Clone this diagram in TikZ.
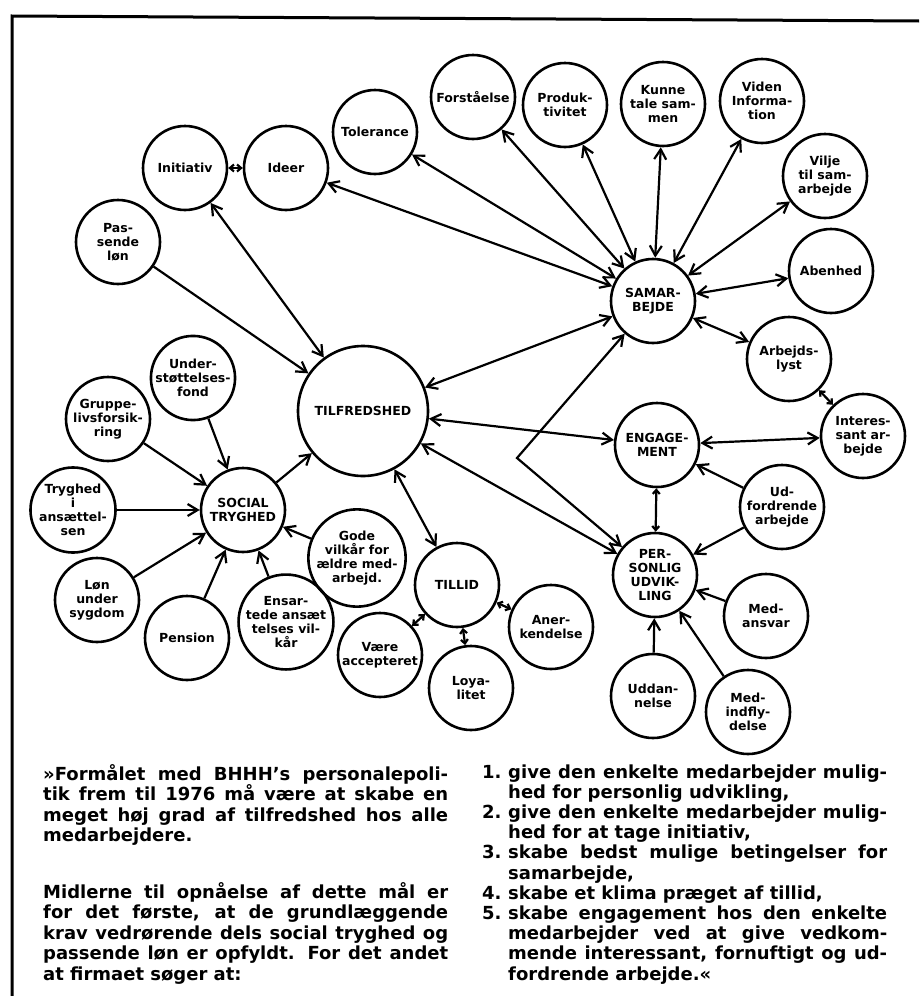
\documentclass[tikz,border=0pt]{standalone}
\usepackage{fontspec}
\setmainfont{DejaVu Sans}
\usetikzlibrary{arrows.meta}
\newcommand\mylab{\fontsize{12.5}{14}\selectfont\bfseries}
\newcommand\mybody{\fontsize{18}{20}\selectfont\bfseries}
\tikzset{
  bub/.style={circle, draw, line width=2.6pt, minimum size=84pt, inner sep=0pt, align=center, font=\mylab},
  bigbub/.style={bub, minimum size=130pt},
  barb/.tip={Straight Barb[length=10pt,width=12pt]},
  tinybarb/.tip={Straight Barb[length=4pt,width=7pt]},
  con/.style={line width=2.2pt, -barb},
  dcon/.style={line width=2.2pt, barb-barb},
  sdcon/.style={line width=2.2pt, tinybarb-tinybarb},
  txt/.style={anchor=base west, inner sep=0pt, font=\mybody},
}
\newcommand\jl[4]{\node[txt] (#1) at (#2) {\makebox[#3][s]{#4}};}
\begin{document}
\begin{tikzpicture}[x=1pt,y=-1pt]
\useasboundingbox (0,0) rectangle (919,996);
% frame
\coordinate (fa) at (12,996);
\coordinate (fb) at (12,16);
\coordinate (fc) at (919,21);
\draw[line width=3pt] (fa) -- (fb) -- (fc);

% nodes
\node[bub] (ini) at (185,168) {Initiativ};
\node[bub] (ide) at (286,168) {Ideer};
\node[bub] (tol) at (375,132) {Tolerance};
\node[bub] (for) at (473,97) {Forståelse};
\node[bub] (pro) at (565,105) {Produk-\\tivitet};
\node[bub] (kun) at (663,104) {Kunne\\tale sam-\\men};
\node[bub] (vid) at (762,101) {Viden\\Informa-\\tion};
\node[bub] (vil) at (825,176) {Vilje\\til sam-\\arbejde};
\node[bub] (abe) at (831,271) {Abenhed};
\node[bub] (sam) at (653,301) {SAMAR-\\BEJDE};
\node[bub] (arb) at (789,359) {Arbejds-\\lyst};
\node[bub] (int) at (863,436) {Interes-\\sant ar-\\bejde};
\node[bub] (eng) at (657,445) {ENGAGE-\\MENT};
\node[bub] (udf) at (782,507) {Ud-\\fordrende\\arbejde};
\node[bub] (per) at (655,575) {PER-\\SONLIG\\UDVIK-\\LING};
\node[bub] (mea) at (766,616) {Med-\\ansvar};
\node[bub] (udd) at (653,696) {Uddan-\\nelse};
\node[bub] (mei) at (748,712) {Med-\\indfly-\\delse};
\node[bub] (til) at (457,585) {TILLID};
\node[bub] (ane) at (551,627) {Aner-\\kendelse};
\node[bub] (loy) at (471,688) {Loya-\\litet};
\node[bub] (vae) at (380,655) {Være\\accepteret};
\node[bub] (god) at (357,558) {Gode\\vilkår for\\ældre med-\\arbejd.};
\node[bigbub] (tif) at (363,411) {TILFREDSHED};
\node[bub] (soc) at (243,510) {SOCIAL\\TRYGHED};
\node[bub] (und) at (193,378) {Under-\\støttelses-\\fond};
\node[bub] (gru) at (108,419) {Gruppe-\\livsforsik-\\ring};
\node[bub] (try) at (73,510) {Tryghed\\i\\ansættel-\\sen};
\node[bub] (lon) at (97,600) {Løn\\under\\sygdom};
\node[bub] (pen) at (187,638) {Pension};
\node[bub] (ens) at (286,622) {Ensar-\\tede ansæt\\telses vil-\\kår};
\node[bub] (pas) at (118,242) {Pas-\\sende\\løn};
\coordinate (kink) at (517,458);

% connectors
\draw[sdcon] (ini) -- (ide);
\draw[dcon] (ide) -- (sam);
\draw[dcon] (tol) -- (sam);
\draw[dcon] (for) -- (sam);
\draw[dcon] (pro) -- (sam);
\draw[dcon] (kun) -- (sam);
\draw[dcon] (vid) -- (sam);
\draw[dcon] (vil) -- (sam);
\draw[dcon] (abe) -- (sam);
\draw[dcon] (arb) -- (sam);
\draw[sdcon] (arb) -- (int);
\draw[dcon] (int) -- (eng);
\draw[con] (udf) -- (eng);
\draw[con] (udf) -- (per);
\draw[sdcon] (eng) -- (per);
\draw[con] (mea) -- (per);
\draw[con] (udd) -- (per);
\draw[con] (mei) -- (per);
\draw[dcon] (tif) -- (sam);
\draw[dcon] (tif) -- (eng);
\draw[dcon] (tif) -- (per);
\draw[dcon] (per) -- (kink) -- (sam);
\draw[dcon] (tif) -- (til);
\draw[sdcon] (til) -- (vae);
\draw[sdcon] (til) -- (loy);
\draw[sdcon] (til) -- (ane);
\draw[dcon] (ini) -- (tif);
\draw[con] (pas) -- (tif);
\draw[con] (soc) -- (tif);
\draw[con] (und) -- (soc);
\draw[con] (gru) -- (soc);
\draw[con] (try) -- (soc);
\draw[con] (lon) -- (soc);
\draw[con] (pen) -- (soc);
\draw[con] (ens) -- (soc);
\draw[con] (god) -- (soc);

% text, left column
\jl{la}{43,780}{405pt}{»Formålet med BHHH’s personalepoli-}
\jl{lb}{43,800.5}{405pt}{tik frem til 1976 må være at skabe en}
\jl{lc}{43,821}{405pt}{meget høj grad af tilfredshed hos alle}
\node[txt] (ld) at (43,841.5) {medarbejdere.};
\jl{le}{43,898}{405pt}{Midlerne til opnåelse af dette mål er}
\jl{lf}{43,918.5}{405pt}{for det første, at de grundlæggende}
\jl{lg}{43,939}{405pt}{krav vedrørende dels social tryghed og}
\jl{lh}{43,959.5}{405pt}{passende løn er opfyldt. For det andet}
\node[txt] (li) at (43,980) {at firmaet søger at:};

% text, right column
\node[txt] (n1) at (482,778) {1.};
\jl{ra}{508,778}{379pt}{give den enkelte medarbejder mulig-}
\node[txt] (rb) at (508,798.2) {hed for personlig udvikling,};
\node[txt] (n2) at (482,818.4) {2.};
\jl{rc}{508,818.4}{379pt}{give den enkelte medarbejder mulig-}
\node[txt] (rd) at (508,838.6) {hed for at tage initiativ,};
\node[txt] (n3) at (482,858.8) {3.};
\jl{re}{508,858.8}{379pt}{skabe bedst mulige betingelser for}
\node[txt] (rf) at (508,879) {samarbejde,};
\node[txt] (n4) at (482,899.2) {4.};
\node[txt] (rg) at (508,899.2) {skabe et klima præget af tillid,};
\node[txt] (n5) at (482,919.4) {5.};
\jl{rh}{508,919.4}{379pt}{skabe engagement hos den enkelte}
\jl{ri}{508,939.6}{379pt}{medarbejder ved at give vedkom-}
\jl{rj}{508,959.8}{379pt}{mende interessant, fornuftigt og ud-}
\node[txt] (rk) at (508,980) {fordrende arbejde.«};
\end{tikzpicture}
\end{document}
